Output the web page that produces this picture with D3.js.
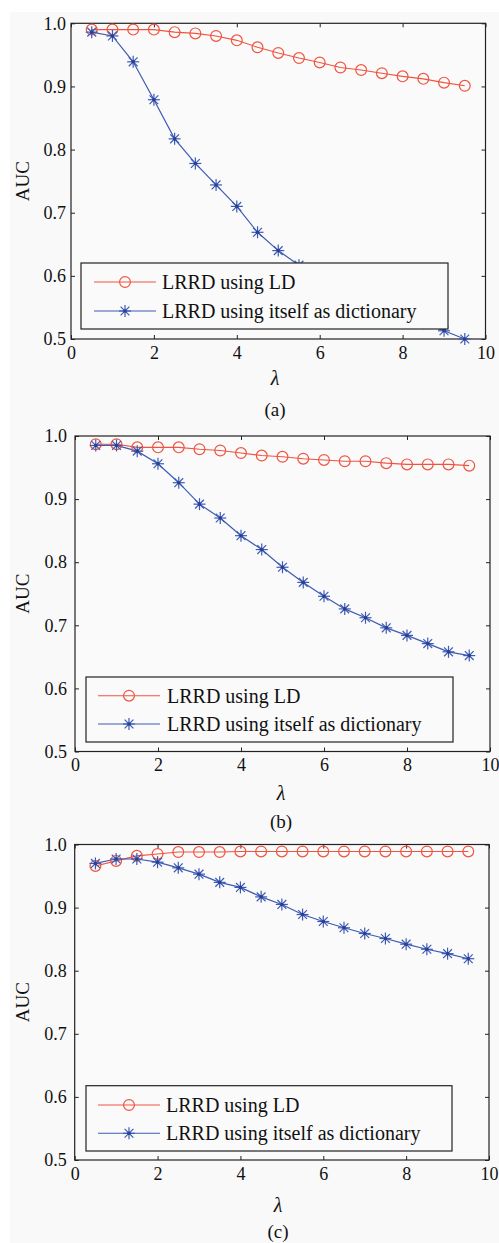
<!DOCTYPE html>
<html>
<head>
<meta charset="utf-8">
<script src="https://cdn.jsdelivr.net/npm/d3@7"></script>
<style>
  html, body { margin: 0; padding: 0; background: #ffffff; }
  svg { display: block; }
  text { font-family: "Liberation Serif", "Times New Roman", serif; fill: #111; }
</style>
</head>
<body>
<svg id="chart" width="499" height="1243"></svg>
<script>
// ---------- data ----------
const lambdas = [0.5, 1.0, 1.5, 2.0, 2.5, 3.0, 3.5, 4.0, 4.5, 5.0, 5.5, 6.0, 6.5, 7.0, 7.5, 8.0, 8.5, 9.0, 9.5];

const aucLD_a     = [0.990, 0.990, 0.990, 0.990, 0.986, 0.984, 0.980, 0.973, 0.962, 0.953, 0.945, 0.938, 0.930, 0.926, 0.921, 0.916, 0.912, 0.906, 0.901];
const aucSelf_a   = [0.986, 0.980, 0.939, 0.879, 0.817, 0.778, 0.744, 0.710, 0.669, 0.640, 0.617, 0.600, 0.585, 0.570, 0.556, 0.542, 0.525, 0.513, 0.500];

const aucLD_b     = [0.987, 0.987, 0.982, 0.982, 0.982, 0.979, 0.977, 0.973, 0.969, 0.967, 0.964, 0.962, 0.960, 0.960, 0.957, 0.955, 0.955, 0.955, 0.953];
const aucSelf_b   = [0.985, 0.985, 0.976, 0.956, 0.926, 0.892, 0.870, 0.842, 0.820, 0.792, 0.768, 0.746, 0.726, 0.712, 0.696, 0.684, 0.671, 0.658, 0.652];

const aucLD_c     = [0.966, 0.974, 0.982, 0.985, 0.988, 0.988, 0.988, 0.989, 0.989, 0.989, 0.989, 0.989, 0.989, 0.989, 0.989, 0.989, 0.989, 0.989, 0.989];
const aucSelf_c   = [0.970, 0.977, 0.977, 0.972, 0.963, 0.953, 0.940, 0.932, 0.917, 0.905, 0.889, 0.878, 0.868, 0.859, 0.851, 0.842, 0.834, 0.827, 0.819];

const xTicks = [0, 2, 4, 6, 8, 10];
const yTicks = [0.5, 0.6, 0.7, 0.8, 0.9, 1.0];
const seriesNames = ["LRRD using LD", "LRRD using itself as dictionary"];
const captions = ["(a)", "(b)", "(c)"];
const xLabel = "λ";
const yLabel = "AUC";

// ---------- layout (styles/positions) ----------
const RED = "#ef5440";
const BLUE = "#3d5bb4";
const panels = [
  { ld: aucLD_a, self: aucSelf_a, cap: captions[0], x0: 71,   x1: 485.5, y0: 23.3,  y1: 339,
    lg: { x0: 81, x1: 448, y0: 263, y1: 329, r1: 282, r2: 311, l0: 94, l1: 156, tx: 162 },
    yLabGap: 5, xl: 275, xlY: 385, capY: 416 },
  { ld: aucLD_b, self: aucSelf_b, cap: captions[1], x0: 75,   x1: 490,   y0: 436,   y1: 751.5,
    lg: { x0: 86, x1: 453, y0: 677, y1: 742, r1: 695.7, r2: 724, l0: 98, l1: 160, tx: 167 },
    yLabGap: 8, xl: 281, xlY: 800, capY: 828 },
  { ld: aucLD_c, self: aucSelf_c, cap: captions[2], x0: 74.7, x1: 489,   y0: 844.5, y1: 1160,
    lg: { x0: 86, x1: 452, y0: 1085.7, y1: 1151, r1: 1105, r2: 1133.3, l0: 98, l1: 160, tx: 166 },
    yLabGap: 8, xl: 278, xlY: 1212, capY: 1238 }
];

const svg = d3.select("#chart");
svg.append("rect").attr("x", 0).attr("y", 0).attr("width", 499).attr("height", 1243).attr("fill", "#ffffff");
svg.append("rect").attr("x", 10).attr("y", 12).attr("width", 489).attr("height", 1231).attr("fill", "#f9f9f9");

function star(g, cx, cy, color) {
  const a = 6, d = 4.4;
  const p = g.append("g").attr("stroke", color).attr("stroke-width", 1.2).attr("fill", "none");
  p.append("line").attr("x1", cx - a).attr("x2", cx + a).attr("y1", cy).attr("y2", cy);
  p.append("line").attr("x1", cx).attr("x2", cx).attr("y1", cy - a).attr("y2", cy + a);
  p.append("line").attr("x1", cx - d).attr("x2", cx + d).attr("y1", cy - d).attr("y2", cy + d);
  p.append("line").attr("x1", cx - d).attr("x2", cx + d).attr("y1", cy + d).attr("y2", cy - d);
  g.append("circle").attr("cx", cx).attr("cy", cy).attr("r", 1.8).attr("fill", "#2a3f8f");
}

panels.forEach(P => {
  const g = svg.append("g");
  const x = d3.scaleLinear().domain([0, 10]).range([P.x0, P.x1]);
  const y = d3.scaleLinear().domain([0.5, 1.0]).range([P.y1, P.y0]);

  g.append("rect").attr("x", P.x0).attr("y", P.y0).attr("width", P.x1 - P.x0).attr("height", P.y1 - P.y0)
    .attr("fill", "#fafafa").attr("stroke", "#222").attr("stroke-width", 1.2);

  const xb = g.append("g").attr("transform", `translate(0,${P.y1})`)
    .call(d3.axisBottom(x).tickValues(xTicks).tickSize(-4).tickPadding(7).tickFormat(d3.format("d")));
  const xt = g.append("g").attr("transform", `translate(0,${P.y0})`)
    .call(d3.axisTop(x).tickValues(xTicks).tickSize(-4).tickFormat(""));
  const yl = g.append("g").attr("transform", `translate(${P.x0},0)`)
    .call(d3.axisLeft(y).tickValues(yTicks).tickSize(-4).tickPadding(P.yLabGap).tickFormat(d3.format(".1f")));
  const yr = g.append("g").attr("transform", `translate(${P.x1},0)`)
    .call(d3.axisRight(y).tickValues(yTicks).tickSize(-4).tickFormat(""));
  [xb, xt, yl, yr].forEach(a => {
    a.select(".domain").remove();
    a.selectAll(".tick line").attr("stroke", "#222").attr("stroke-width", 1);
    a.selectAll("text").attr("font-size", 18).attr("fill", "#111");
  });
  xb.selectAll("text").attr("dy", "0.72em");

  const line = d3.line().x((d, i) => x(lambdas[i])).y(d => y(d));
  g.append("path").datum(P.ld).attr("d", line).attr("fill", "none").attr("stroke", RED).attr("stroke-width", 1.1);
  g.append("path").datum(P.self).attr("d", line).attr("fill", "none").attr("stroke", BLUE).attr("stroke-width", 1.2);

  P.ld.forEach((v, i) => {
    g.append("circle").attr("cx", x(lambdas[i])).attr("cy", y(v)).attr("r", 5.4)
      .attr("fill", "none").attr("stroke", RED).attr("stroke-width", 1.2);
  });
  P.self.forEach((v, i) => star(g, x(lambdas[i]), y(v), BLUE));

  const L = P.lg;
  g.append("rect").attr("x", L.x0).attr("y", L.y0).attr("width", L.x1 - L.x0).attr("height", L.y1 - L.y0)
    .attr("fill", "#fafafa").attr("stroke", "#222").attr("stroke-width", 1.2);
  const mid = (L.l0 + L.l1) / 2;
  g.append("line").attr("x1", L.l0).attr("x2", L.l1).attr("y1", L.r1).attr("y2", L.r1).attr("stroke", RED).attr("stroke-width", 1.1);
  g.append("circle").attr("cx", mid).attr("cy", L.r1).attr("r", 5.4).attr("fill", "none").attr("stroke", RED).attr("stroke-width", 1.2);
  g.append("line").attr("x1", L.l0).attr("x2", L.l1).attr("y1", L.r2).attr("y2", L.r2).attr("stroke", BLUE).attr("stroke-width", 1.1);
  star(g, mid, L.r2, BLUE);
  g.append("text").attr("x", L.tx).attr("y", L.r1 + 7).attr("font-size", 20).text(seriesNames[0]);
  g.append("text").attr("x", L.tx).attr("y", L.r2 + 7).attr("font-size", 20).text(seriesNames[1]);

  g.append("text").attr("x", P.xl).attr("y", P.xlY).attr("text-anchor", "middle")
    .attr("font-size", 20).attr("font-style", "italic").text(xLabel);
  const cy = (P.y0 + P.y1) / 2;
  g.append("text").attr("transform", `translate(29,${cy}) rotate(-90)`).attr("text-anchor", "middle")
    .attr("font-size", 19).text(yLabel);
  g.append("text").attr("x", P.xl).attr("y", P.capY).attr("text-anchor", "middle")
    .attr("font-size", 19).text(P.cap);
});
</script>
</body>
</html>
